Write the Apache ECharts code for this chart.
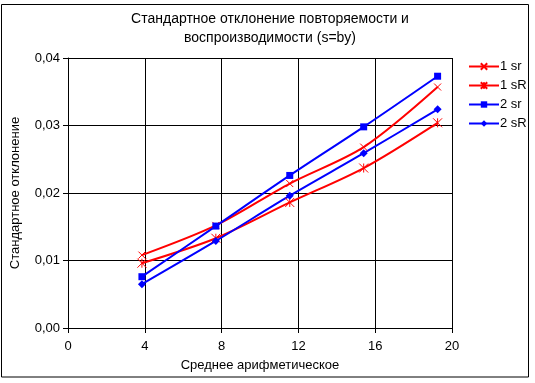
<!DOCTYPE html>
<html><head><meta charset="utf-8">
<script src="https://cdn.jsdelivr.net/npm/echarts@6/dist/echarts.min.js"></script>
<style>html,body{margin:0;padding:0;background:#fff;}#c{width:535px;height:383px;}</style>
</head><body><div id="c"></div>
<script>
const xValues = [3.85, 7.7, 11.55, 15.4, 19.25];
const s1sr = [0.0108, 0.0152, 0.0214, 0.0268, 0.0357];
const s1sR = [0.0096, 0.0133, 0.0186, 0.0237, 0.0304];
const s2sr = [0.0076, 0.0151, 0.0226, 0.0298, 0.0373];
const s2sR = [0.0065, 0.0129, 0.0196, 0.0259, 0.0324];
const seriesNames = ['1 sr', '1 sR', '2 sr', '2 sR'];
const titleText = 'Стандартное отклонение повторяемости и\nвоспроизводимости (s=by)';
const xName = 'Среднее арифметическое';
const yName = 'Стандартное отклонение';

const FONT = 'Liberation Sans, Arial, sans-serif';
const xSym = 'path://M0,0L10,10M10,0L0,10';
const starSym = 'path://M0,0L10,10M10,0L0,10M5,0L5,10';
function pairs(arr){ return arr.map((v,i)=>[xValues[i], v]); }

const chart = echarts.init(document.getElementById('c'), null, {renderer:'canvas'});
const lineBase = {type:'line', smooth:0.3, showSymbol:true, animation:false, lineStyle:{width:2}};
chart.setOption({
  animation:false,
  title:{text:titleText, left:265, top:5, textAlign:'center',
    textStyle:{fontFamily:FONT, fontSize:14, fontWeight:'normal', color:'#000', lineHeight:19}},
  grid:{left:68, right:83, top:58, bottom:55},
  legend:{orient:'vertical', left:463, top:55, itemWidth:30, itemHeight:8, itemGap:6,
    textStyle:{fontFamily:FONT, fontSize:13, color:'#000', padding:[0,0,0,-4]},
    data:seriesNames},
  xAxis:{type:'value', min:0, max:20, interval:4,
    name:xName, nameLocation:'middle', nameGap:31,
    nameTextStyle:{fontFamily:FONT, fontSize:13, color:'#000'},
    axisLine:{lineStyle:{color:'#000', width:1}},
    axisTick:{show:true, length:5, lineStyle:{color:'#000'}},
    axisLabel:{fontFamily:FONT, fontSize:13, color:'#000', margin:12},
    splitLine:{show:true, lineStyle:{color:'#000', width:1}}},
  yAxis:{type:'value', min:0, max:0.04, interval:0.01,
    name:yName, nameLocation:'middle', nameGap:46, nameRotate:90,
    nameTextStyle:{fontFamily:FONT, fontSize:13, color:'#000'},
    axisLine:{show:true, lineStyle:{color:'#000', width:1}},
    axisTick:{show:true, length:5, lineStyle:{color:'#000'}},
    axisLabel:{fontFamily:FONT, fontSize:13, color:'#000', margin:8,
      formatter:v=>v.toFixed(2).replace('.', ',')},
    splitLine:{show:true, lineStyle:{color:'#000', width:1}}},
  series:[
    Object.assign({}, lineBase, {name:seriesNames[0], data:pairs(s1sr), color:'#ff0000',
      symbol:xSym, symbolSize:7, itemStyle:{color:'#ff0000', borderColor:'#ff0000', borderWidth:1}}),
    Object.assign({}, lineBase, {name:seriesNames[1], data:pairs(s1sR), color:'#ff0000',
      symbol:starSym, symbolSize:9, itemStyle:{color:'#ff0000', borderColor:'#ff0000', borderWidth:1}}),
    Object.assign({}, lineBase, {name:seriesNames[2], data:pairs(s2sr), color:'#0000ff',
      symbol:'rect', symbolSize:7, itemStyle:{color:'#0000ff'}}),
    Object.assign({}, lineBase, {name:seriesNames[3], data:pairs(s2sR), color:'#0000ff',
      symbol:'diamond', symbolSize:8, itemStyle:{color:'#0000ff'}})
  ],
  graphic:[{type:'rect', shape:{x:1.5, y:4.5, width:527, height:372.5},
    style:{fill:null, stroke:'#000', lineWidth:1}, silent:true}]
});
</script></body></html>
